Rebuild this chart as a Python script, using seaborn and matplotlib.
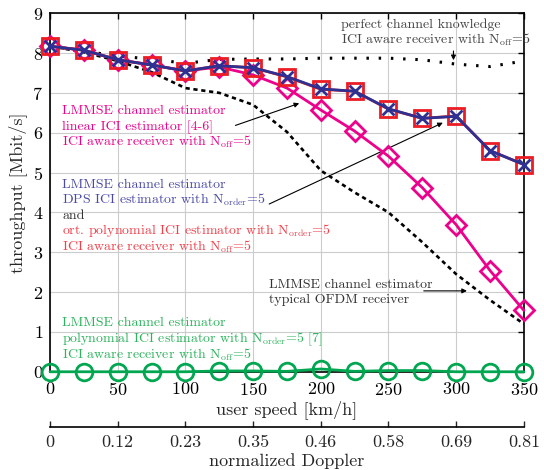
import numpy as np
import pandas as pd
import matplotlib
matplotlib.use("Agg")
import matplotlib.pyplot as plt
import seaborn as sns

# user speed [km/h]
speed = [0, 25, 50, 75, 100, 125, 150, 175, 200, 225, 250, 275, 300, 325, 350]
doppler_ticks = [0, 50, 100, 150, 200, 250, 300, 350]
doppler_labels = ["0", "0.12", "0.23", "0.35", "0.46", "0.58", "0.69", "0.81"]

# throughput [Mbit/s]
perfect = [8.17, 8.05, 7.92, 7.85, 7.74, 7.84, 7.85, 7.85, 7.87, 7.87, 7.87, 7.83, 7.72, 7.66, 7.80]
ofdm = [8.17, 8.02, 7.80, 7.52, 7.12, 7.00, 6.70, 6.02, 5.05, 4.50, 4.00, 3.25, 2.45, 1.80, 1.20]
linear_ici = [8.17, 8.07, 7.83, 7.70, 7.55, 7.65, 7.45, 7.12, 6.57, 6.04, 5.41, 4.62, 3.69, 2.54, 1.54]
dps_ici = [8.17, 8.07, 7.83, 7.70, 7.55, 7.68, 7.63, 7.41, 7.10, 7.04, 6.60, 6.36, 6.41, 5.55, 5.20]
ortpoly_ici = [8.17, 8.07, 7.83, 7.70, 7.55, 7.68, 7.63, 7.40, 7.09, 7.04, 6.59, 6.36, 6.42, 5.55, 5.20]
poly_ici = [0.0, 0.0, 0.0, 0.0, 0.0, 0.02, 0.02, 0.01, 0.07, 0.01, 0.03, 0.03, 0.0, 0.0, 0.0]

PINK = "#ec008c"
NAVY = "#2e3192"
RED = "#ed1c24"
GREEN = "#00a650"

sns.set_theme(style="whitegrid")
plt.rcParams["font.family"] = ["cmr10", "DejaVu Serif"]
plt.rcParams["mathtext.fontset"] = "cm"
plt.rcParams["axes.formatter.use_mathtext"] = True

fig = plt.figure(figsize=(5.44, 4.70), dpi=100)
ax = fig.add_axes([0.092, 0.209, 0.871, 0.763])

common = dict(ax=ax, linewidth=2, markerfacecolor="none", markeredgewidth=2, clip_on=False)

sns.lineplot(x=speed, y=poly_ici, color=GREEN, marker="o", markersize=12,
             markeredgecolor=GREEN, zorder=3, **common)
sns.lineplot(x=speed, y=ofdm, color="black", linestyle=(0, (1.6, 1.4)), ax=ax,
             linewidth=1.9, zorder=3)
sns.lineplot(x=speed, y=perfect, color="black", linestyle=(0, (0.8, 3.2)), ax=ax,
             linewidth=2.2, zorder=3)
sns.lineplot(x=speed, y=linear_ici, color=PINK, marker="D", markersize=10,
             markeredgecolor=PINK, zorder=4, **common)
sns.lineplot(x=speed, y=ortpoly_ici, color=RED, marker="s", markersize=11,
             markeredgecolor=RED, zorder=5, **common)
sns.lineplot(x=speed, y=dps_ici, color=NAVY, marker="x", markersize=9,
             markeredgecolor=NAVY, zorder=6, **common)

ax.set_xlim(0, 350)
ax.set_ylim(0, 9)
ax.set_xticks(doppler_ticks)
ax.set_yticks(range(10))
ax.grid(True, color="#cccccc", linewidth=0.8)
for s in ax.spines.values():
    s.set_color("black")
    s.set_linewidth(1.2)
ax.tick_params(direction="in", length=4, width=1, colors="black", labelsize=13,
               top=True, right=True)
ax.tick_params(axis="x", pad=7)
ax.tick_params(axis="y", pad=5)
ax.set_xlabel("user speed [km/h]", fontsize=13, labelpad=1)
ax.set_ylabel("throughput [Mbit/s]", fontsize=13, labelpad=4)

sec = ax.secondary_xaxis(-0.153)
sec.set_xticks(doppler_ticks)
sec.set_xticklabels(doppler_labels)
sec.tick_params(direction="in", length=4, width=1, labelsize=13, pad=6)
sec.spines["bottom"].set_color("black")
sec.spines["bottom"].set_linewidth(1.2)
sec.set_xlabel("normalized Doppler", fontsize=13, labelpad=2)

fs = 10
off = 0.11  # centre of line -> baseline


def block(x, centres, lines, colors):
    for yc, line, col in zip(centres, lines, colors):
        ax.text(x, yc - off, line, color=col, fontsize=fs, va="baseline", ha="left")


block(215, [8.74, 8.34],
      ["perfect channel knowledge", "ICI aware receiver with N$_{\\rm off}$=5"],
      ["#444444"] * 2)
block(9, [6.58, 6.16, 5.78],
      ["LMMSE channel estimator", "linear ICI estimator [4-6]",
       "ICI aware receiver with N$_{\\rm off}$=5"],
      [PINK] * 3)
block(9, [4.71, 4.33, 3.95, 3.56, 3.16],
      ["LMMSE channel estimator", "DPS ICI estimator with N$_{\\rm order}$=5", "and",
       "ort. polynomial ICI estimator with N$_{\\rm order}$=5",
       "ICI aware receiver with N$_{\\rm off}$=5"],
      ["#4b4ba6", "#4b4ba6", "#333333", "#f0404a", "#f0404a"])
block(162, [2.22, 1.83],
      ["LMMSE channel estimator", "typical OFDM receiver"],
      ["#333333"] * 2)
block(9, [1.25, 0.85, 0.44],
      ["LMMSE channel estimator", "polynomial ICI estimator with N$_{\\rm order}$=5 [7]",
       "ICI aware receiver with N$_{\\rm off}$=5"],
      ["#2db35d"] * 3)

arrow = dict(arrowstyle="-|>", color="black", lw=0.8, mutation_scale=7)
ax.annotate("", xy=(298, 7.75), xytext=(298, 8.12), arrowprops=arrow)
ax.annotate("", xy=(186, 6.76), xytext=(135, 6.16), arrowprops=arrow)
ax.annotate("", xy=(292, 6.28), xytext=(160, 4.18), arrowprops=arrow)
ax.annotate("", xy=(310, 2.03), xytext=(274, 2.03), arrowprops=arrow)

fig.savefig("out.png", dpi=100)
